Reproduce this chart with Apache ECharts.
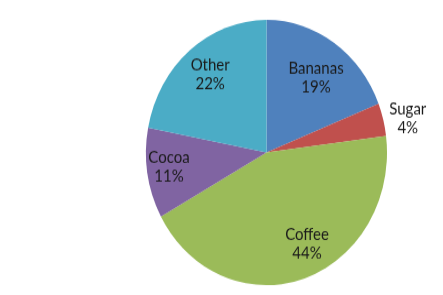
<!DOCTYPE html>
<html>
<head>
<meta charset="utf-8">
<script src="https://cdn.jsdelivr.net/npm/echarts@6/dist/echarts.min.js"></script>
<style>
html,body{margin:0;padding:0;background:#fff;width:443px;height:295px;}
#wrap{width:443px;height:295px;position:relative;}
#c{width:443px;height:268px;position:absolute;left:0;top:0;transform:scaleY(1.1007);transform-origin:0 0;}
</style>
</head>
<body>
<div id="wrap"><div id="c"></div></div>
<script>
const categories = ['Bananas', 'Sugar', 'Coffee', 'Cocoa', 'Other'];
const values = [19, 4, 44, 11, 22];
const colors = ['#4F81BD', '#C0504D', '#9BBB59', '#8064A2', '#4BACC6'];
// label nudges (style only)
const labelShift = [[14, -16], [80, -15], [21, 23], [-35, 3], [-16, -22]];

const chart = echarts.init(document.getElementById('c'), null, {renderer: 'canvas', width: 443, height: 268});
chart.setOption({
  animation: false,
  backgroundColor: '#ffffff',
  series: [{
    type: 'pie',
    center: [266.5, 138.6],
    radius: [0, 120.5],
    startAngle: 90,
    clockwise: true,
    avoidLabelOverlap: false,
    data: categories.map((c, i) => ({name: c, value: values[i], itemStyle: {color: colors[i]}})),
    itemStyle: {borderWidth: 0},
    label: {
      show: true,
      position: 'inside',
      formatter: '{b}\n{d}%',
      fontFamily: 'Lato',
      fontSize: 15,
      lineHeight: 17,
      color: '#1a1a1a',
      align: 'center'
    },
    labelLine: {show: false},
    labelLayout: function (p) {
      const s = labelShift[p.dataIndex];
      return {dx: s[0], dy: s[1]};
    },
    emphasis: {disabled: true}
  }]
});
</script>
</body>
</html>
